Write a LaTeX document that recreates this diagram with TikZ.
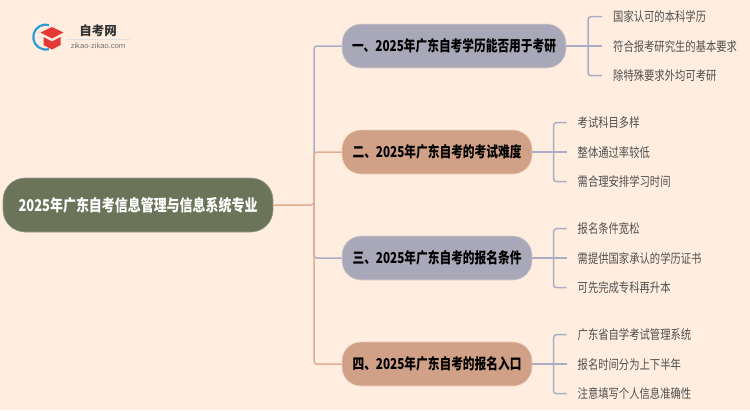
\documentclass[tikz,border=0pt]{standalone}
\usepackage{fontspec}
\setmainfont{Noto Sans CJK SC}
\newfontfamily\rootfont[FakeStretch=0.80]{Noto Sans CJK SC}
\newfontfamily\titlefont[FakeStretch=0.78]{Noto Sans CJK SC}
\newfontfamily\leaffont[FakeStretch=0.80]{Noto Sans CJK SC}
\newfontfamily\logofont{Noto Sans CJK SC}
\newfontfamily\urlfont{Liberation Sans}
\definecolor{bgc}{HTML}{FFEEE0}
\definecolor{rootc}{HTML}{6B7359}
\definecolor{purc}{HTML}{A8A8B9}
\definecolor{tanc}{HTML}{D1A187}
\definecolor{lpur}{HTML}{ABADC6}
\definecolor{ltan}{HTML}{E0AC92}
\definecolor{leaft}{HTML}{4F4F4F}
\definecolor{capred}{HTML}{E53935}
\definecolor{arcblue}{HTML}{2E9BD6}
\tikzset{
 x=1pt,y=-1pt,
 rootbox/.style={fill=rootc,draw=rootc!70!white,line width=.6pt,rounded corners=22pt,minimum width=270pt,minimum height=54pt,inner sep=0pt,text=white,font=\rootfont\bfseries\fontsize{16.2}{18}\selectfont},
 topic/.style={draw=bgc!60!#1,line width=.6pt,fill=#1,rounded corners=19pt,minimum height=44pt,inner sep=0pt,text=black,font=\titlefont\bfseries\fontsize{15}{17}\selectfont},
 leafnode/.style={anchor=west,inner ysep=0pt,inner xsep=0pt,text=leaft,font=\leaffont\fontsize{12.9}{15}\selectfont},
 linkp/.style={draw=lpur,line width=1.5pt,rounded corners=3pt},
 linkt/.style={draw=ltan,line width=1.5pt,rounded corners=3pt},
}
\begin{document}
\begin{tikzpicture}
\fill[bgc] (0,0) rectangle (750,410);
\useasboundingbox (0,0) rectangle (750,410);
% logo
\draw[draw=arcblue,line width=2.2pt] (49,25) arc[start angle=-75,end angle=-285,radius=12.5];
\fill[capred] (52,27) -- (63.5,32.5) -- (52,38.5) -- (40.5,32.5) -- cycle;
\fill[capred] (43.5,37) -- (52,41.5) -- (60.5,37) -- (60.5,45) -- (52,49.5) -- (43.5,45) -- cycle;
\node[inner sep=0pt,text=black!80,font=\logofont\bfseries\fontsize{12.5}{14}\selectfont] (logot) at (98,30.5) {自考网};
\draw[black!12,line width=.5pt] (66,39.2) -- (130,39.2);
\node[inner sep=0pt,text=black!55,font=\urlfont\fontsize{7.6}{9}\selectfont] (logou) at (98,45.5) {zikao-zikao.com};
% nodes
\node[rootbox] (root) at (138,205) {2025年广东自考信息管理与信息系统专业};
\coordinate (trunk) at (314,205);
\node[topic=purc,minimum width=224pt] (n1) at (454,46) {一、2025年广东自考学历能否用于考研};
\node[topic=tanc,minimum width=190pt] (n2) at (437,152) {二、2025年广东自考的考试难度};
\node[topic=purc,minimum width=190pt] (n3) at (437,258) {三、2025年广东自考的报名条件};
\node[topic=tanc,minimum width=190pt] (n4) at (437,364) {四、2025年广东自考的报名入口};
% leaves
\foreach \nm/\ly/\tx in {a1/16.7/国家认可的本科学历,a2/46.7/符合报考研究生的基本要求,a3/75.7/除特殊要求外均可考研}{
 \node[leafnode] (\nm) at (613,\ly) {\tx};}
\foreach \nm/\ly/\tx in {b1/122.7/考试科目多样,b2/152.7/整体通过率较低,b3/181.7/需合理安排学习时间,
 c1/228.7/报名条件宽松,c2/258.7/需提供国家承认的学历证书,c3/287.7/可先完成专科再升本,
 d1/334.7/广东省自学考试管理系统,d2/364.7/报名时间分为上下半年,d3/393.7/注意填写个人信息准确性}{
 \node[leafnode] (\nm) at (577.5,\ly) {\tx};}
% main connectors
\draw[linkp] (trunk) |- (n1.west);
\draw[linkp] (trunk) |- (n3.west);
\draw[linkt] (root.east) -- (trunk) |- (n2.west);
\draw[linkt] (trunk) |- (n4.west);
% leaf connectors
\foreach \pn/\kid/\jx/\ex in {n1/a/588/602,n2/b/553.5/566.5,n3/c/553.5/566.5,n4/d/553.5/566.5}{
 \coordinate (\pn j) at (\jx,0);
 \coordinate (\pn e) at (\ex,0);
 \draw[linkp] (\pn.east) -- (\pn e |- \pn.east);
 \draw[linkp] (\pn e |- \kid1.west) -- (\pn j |- \kid1.west) -- (\pn j |- \kid3.west) -- (\pn e |- \kid3.west);
}
\end{tikzpicture}
\end{document}
